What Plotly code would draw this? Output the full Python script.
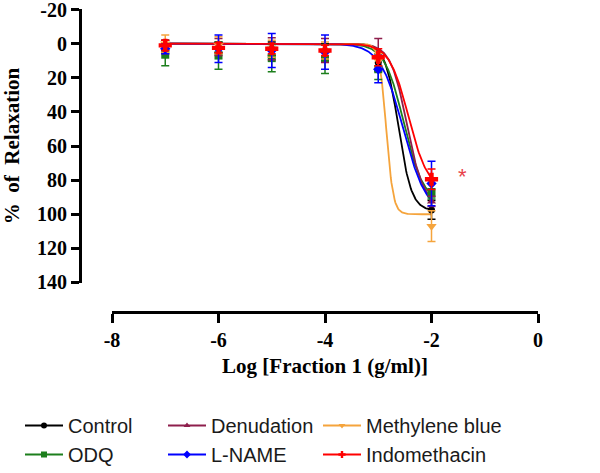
import numpy as np
import plotly.graph_objects as go

# ---- data ----
log_conc = [-7, -6, -5, -4, -3, -2]
series_names = ["Control", "ODQ", "Denudation", "Methylene blue", "L-NAME", "Indomethacin"]
control = [1, 2, 3, 4, 11, 97.5]
control_err = [3, 3, 4, 4, 5, 5.5]
odq = [6.5, 7, 8.5, 9, 15, 88]
odq_err = [6.5, 8, 8, 8.5, 6, 3]
denudation = [2, 2, 3, 4, 6, 92.5]
denudation_err = [4, 5, 6.5, 7, 9, 3]
methylene_blue = [0, 1, 3, 4, 10, 107]
methylene_blue_err = [5, 5, 5, 5, 4, 9]
l_name = [3, 3, 4, 5, 15, 82]
l_name_err = [3, 8, 10, 10, 8, 13]
indomethacin = [1, 2.5, 3, 4, 8, 79.5]
indomethacin_err = [3, 3, 3, 3, 5, 6]

# fitted sigmoid parameters (bottom, logEC50, hill slope), top = 0
fit_bottom = [98, 93, 95, 100, 100, 86]
fit_logec50 = [-2.62, -2.52, -2.46, -2.85, -2.53, -2.43]
fit_hill = [3.5, 2.4, 2.8, 6.6, 2.0, 2.4]

y_ticks = [-20, 0, 20, 40, 60, 80, 100, 120, 140]
y_tick_labels = ["-20", "0", "20", "40", "60", "80", "100", "120", "140"]
x_ticks = [-8, -6, -4, -2, 0]
x_tick_labels = ["-8", "-6", "-4", "-2", "0"]

colors = ["#000000", "#1C7F1C", "#8E1F4C", "#F5A43C", "#0000FF", "#FF0000"]
symbols = ["circle", "square", "triangle-up", "triangle-down", "diamond", "cross"]
sizes = [7, 8, 8, 9, 8, 11]
legend_col = ["legend", "legend", "legend2", "legend3", "legend2", "legend3"]

means = [control, odq, denudation, methylene_blue, l_name, indomethacin]
errs = [control_err, odq_err, denudation_err, methylene_blue_err, l_name_err, indomethacin_err]

fig = go.Figure()
xc = np.linspace(log_conc[0], log_conc[-1], 400)
for i, name in enumerate(series_names):
    yc = fit_bottom[i] / (1 + 10 ** ((fit_logec50[i] - xc) * fit_hill[i]))
    fig.add_trace(go.Scatter(x=xc, y=yc, mode="lines", line=dict(color=colors[i], width=1.8),
                             showlegend=False, hoverinfo="skip"))
for i, name in enumerate(series_names):
    fig.add_trace(go.Scatter(
        x=log_conc, y=means[i], mode="markers", showlegend=False, name=name,
        marker=dict(color=colors[i], symbol=symbols[i], size=sizes[i]),
        error_y=dict(type="data", array=errs[i], color=colors[i], thickness=1.5, width=4)))
for i, name in enumerate(series_names):
    fig.add_trace(go.Scatter(
        x=[None], y=[None], mode="lines+markers", name=name, legend=legend_col[i],
        line=dict(color=colors[i], width=1.8),
        marker=dict(color=colors[i], symbol=symbols[i], size=6)))

WF, HF = 600, 473
fig.add_annotation(x=-1.41, y=78, xref="x", yref="y", text="*", showarrow=False,
                   font=dict(size=22, color="#E8424B", family="Liberation Sans"))

tickfont = dict(family="Liberation Serif", size=20, color="black")
titlefont = dict(family="Liberation Serif", size=21, color="black")
legfont = dict(family="Liberation Sans", size=20, color="#1a1a1a")


def leg(xpx):
    return dict(orientation="v", x=xpx / WF, xanchor="left", y=1 - 406 / HF, yanchor="top",
                font=legfont, itemwidth=38, traceorder="normal",
                bgcolor="rgba(0,0,0,0)")


fig.update_layout(
    width=WF, height=HF,
    margin=dict(l=0, r=0, t=0, b=0, autoexpand=False),
    paper_bgcolor="white", plot_bgcolor="white",
    xaxis=dict(range=[-8, 0], tickvals=x_ticks, ticktext=["<b>%s</b>" % t for t in x_tick_labels],
               domain=[112 / WF, 538 / WF], automargin=False, ticklabeloverflow="allow",
               anchor="free", position=1 - 312 / HF, showline=True, linewidth=3, linecolor="black",
               ticks="outside", ticklen=9, tickwidth=3, tickcolor="black",
               showgrid=False, zeroline=False, tickfont=tickfont,
               title=dict(text="<b>Log [Fraction 1 (g/ml)]</b>", standoff=8, font=titlefont)),
    yaxis=dict(range=[140.3, -20.3], tickvals=y_ticks, ticktext=["<b>%s</b>" % t for t in y_tick_labels],
               domain=[1 - 283 / HF, 1 - 9 / HF], automargin=False, ticklabeloverflow="allow",
               anchor="free", position=80 / WF, showline=True, linewidth=3, linecolor="black",
               ticks="outside", ticklen=8, tickwidth=3, tickcolor="black",
               showgrid=False, zeroline=False, tickfont=tickfont,
               title=dict(text="<b>%\u00a0\u00a0of\u00a0\u00a0Relaxation</b>", standoff=17, font=titlefont)),
    legend=leg(20), legend2=leg(163), legend3=leg(318),
    showlegend=True,
)
fig.write_html("out.html", config={"displayModeBar": False},
               post_script="document.body.style.margin='0';")
